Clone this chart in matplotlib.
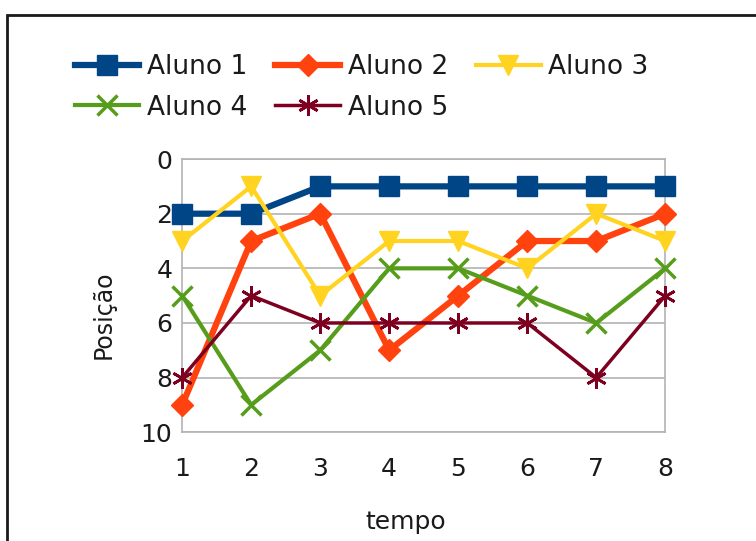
import matplotlib.pyplot as plt
from matplotlib.patches import Rectangle

tempo = [1, 2, 3, 4, 5, 6, 7, 8]
aluno1 = [2, 2, 1, 1, 1, 1, 1, 1]
aluno2 = [9, 3, 2, 7, 5, 3, 3, 2]
aluno3 = [3, 1, 5, 3, 3, 4, 2, 3]
aluno4 = [5, 9, 7, 4, 4, 5, 6, 4]
aluno5 = [8, 5, 6, 6, 6, 6, 8, 5]
nomes = ['Aluno 1', 'Aluno 2', 'Aluno 3', 'Aluno 4', 'Aluno 5']
yticks = [0, 2, 4, 6, 8, 10]

cores = ['#004586', '#ff420e', '#ffd320', '#579d1c', '#7e0021']
estilos = [
    dict(marker='s', markersize=14, linewidth=4.5),
    dict(marker='D', markersize=11, linewidth=4.5),
    dict(marker='v', markersize=14, linewidth=3),
    dict(marker='x', markersize=14, linewidth=3, markeredgewidth=2.5),
    dict(marker=(6, 2, 0), markersize=15, linewidth=2.5, markeredgewidth=2),
]

fig = plt.figure(figsize=(7.56, 5.41), dpi=100)
ax = fig.add_axes([0.241, 0.201, 0.639, 0.505])

linhas = []
for serie, nome, cor, est in zip([aluno1, aluno2, aluno3, aluno4, aluno5], nomes, cores, estilos):
    l, = ax.plot(tempo, serie, color=cor, label=nome, clip_on=False, zorder=3, **est)
    linhas.append(l)

ax.set_xlim(1, 8)
ax.set_ylim(10, 0)
ax.set_xticks(tempo)
ax.set_yticks(yticks)
ax.tick_params(length=0, labelsize=18, colors='#1a1a1a')
ax.tick_params(axis='x', pad=18)
ax.tick_params(axis='y', pad=7)
ax.grid(axis='y', color='#b3b3b3', linewidth=1.2)
ax.set_axisbelow(True)
for s in ax.spines.values():
    s.set_color('#b3b3b3')
    s.set_linewidth(1.2)

ax.set_xlabel('tempo', fontsize=18, color='#1a1a1a')
ax.set_ylabel('Posição', fontsize=17, color='#1a1a1a')
ax.xaxis.set_label_coords(0.537, 0.058, transform=fig.transFigure)
ax.yaxis.set_label_coords(0.153, 0.418, transform=fig.transFigure)

ordem = [0, 3, 1, 4, 2]
leg = fig.legend([linhas[i] for i in ordem], [nomes[i] for i in ordem],
                 ncol=3, loc='upper left', bbox_to_anchor=(0.099, 0.90),
                 frameon=False, fontsize=19, borderpad=0, borderaxespad=0,
                 handlelength=2.45, handletextpad=0.3, columnspacing=1.05,
                 labelspacing=0.55)
for t in leg.get_texts():
    t.set_color('#1a1a1a')

fig.patches.append(Rectangle((0.0093, -0.1), 1.2, 1.072, transform=fig.transFigure,
                             fill=False, edgecolor='#1a1a1a', linewidth=2))

fig.savefig('out.png', dpi=100)
